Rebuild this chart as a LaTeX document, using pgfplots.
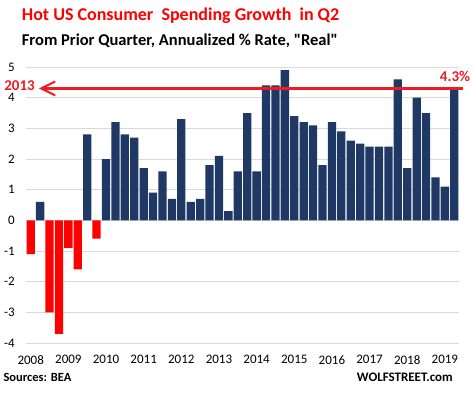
\documentclass[border=0pt]{standalone}
\usepackage{fontspec}
\setmainfont{Carlito}
\usepackage{pgfplots}
\pgfplotsset{compat=1.18}
\usetikzlibrary{arrows.meta}
\definecolor{navy}{HTML}{1F3864}
\definecolor{barred}{HTML}{FF0000}
\definecolor{linered}{HTML}{ED1C24}
\definecolor{gridgray}{HTML}{D9D9D9}
\begin{document}
\begin{tikzpicture}
\useasboundingbox (0pt,0pt) rectangle (474pt,392pt);
\begin{axis}[
  at={(26pt,49pt)}, anchor=south west,
  scale only axis, width=433pt, height=276pt,
  xmin=-0.5, xmax=45.5, ymin=-4, ymax=5,
  axis line style={draw=none},
  ytick={-4,-3,-2,-1,0,1,2,3,4,5},
  xtick={0,4,8,12,16,20,24,28,32,36,40,44},
  xticklabels={2008,2009,2010,2011,2012,2013,2014,2015,2016,2017,2018,2019},
  major tick length=0pt,
  ymajorgrids, grid style={gridgray, line width=0.8pt},
  tick label style={font=\fontsize{13}{13}\selectfont},
  yticklabel style={xshift=-7.7pt},
  xticklabel style={yshift=-8.7pt},
  /pgf/number format/assume math mode=true,
  clip=false,
]
\addplot[ybar, bar width=0.88, fill=navy, draw=none] coordinates {
 (1,0.6) (6,2.8) (8,2.0) (9,3.2) (10,2.8) (11,2.7)
 (12,1.7) (13,0.9) (14,1.6) (15,0.7) (16,3.3) (17,0.6) (18,0.7) (19,1.8)
 (20,2.1) (21,0.3) (22,1.6) (23,3.5) (24,1.6) (25,4.4) (26,4.4) (27,4.9)
 (28,3.4) (29,3.2) (30,3.1) (31,1.8) (32,3.2) (33,2.9) (34,2.6) (35,2.5)
 (36,2.4) (37,2.4) (38,2.4) (39,4.6) (40,1.7) (41,4.0) (42,3.5) (43,1.4)
 (44,1.1) (45,4.3)
};
\addplot[ybar, bar width=0.88, fill=barred, draw=none] coordinates {
 (0,-1.1) (2,-3.0) (3,-3.7) (4,-0.9) (5,-1.6) (7,-0.6)
};
\draw[linered, line width=2.6pt, {Straight Barb[length=14pt,width=14pt,line width=2pt]}-]
  (axis cs:0.88,4.3) -- (axis cs:45.9,4.3);
\end{axis}
\node[anchor=base west, inner sep=0, text=barred, font=\fontsize{18}{18}\selectfont\bfseries]
  at (21.7pt,371.3pt) {Hot US Consumer\ \ Spending Growth\ \ in Q2};
\node[anchor=base west, inner sep=0, font=\fontsize{16.5}{16.5}\selectfont\bfseries]
  at (21.7pt,346.3pt) {From Prior Quarter, Annualized \% Rate, \textquotedbl Real\textquotedbl};
\node[inner sep=0, text=linered, font=\fontsize{15}{15}\selectfont\bfseries] at (19.5pt,306pt) {2013};
\node[inner sep=0, text=linered, font=\fontsize{15}{15}\selectfont\bfseries] at (455pt,315.3pt) {4.3\%};
\node[anchor=base west, inner sep=0, font=\fontsize{12.5}{12.5}\selectfont\bfseries] at (3.3pt,11pt) {Sources: BEA};
\node[anchor=base east, inner sep=0, font=\fontsize{13}{13}\selectfont\bfseries] at (453pt,10.3pt) {WOLFSTREET.com};
\end{tikzpicture}
\end{document}
